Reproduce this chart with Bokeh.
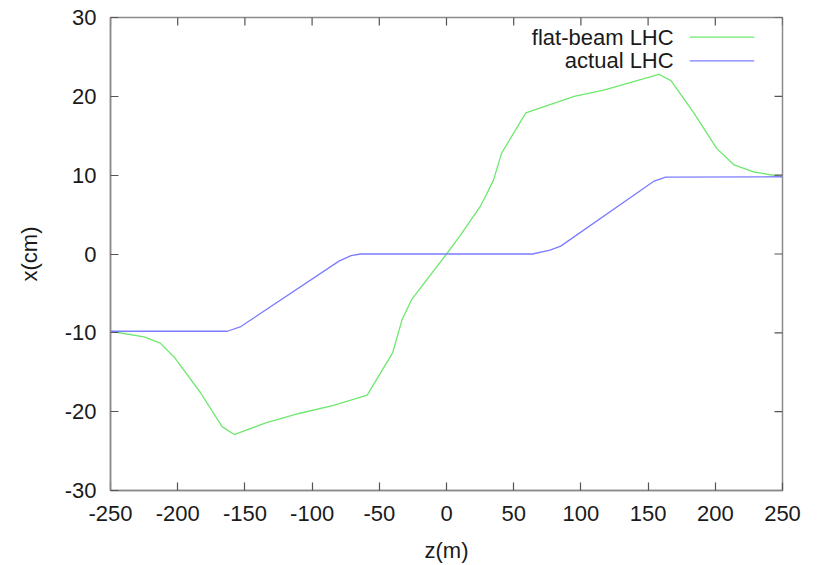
import math
from bokeh.plotting import figure
from bokeh.models import FixedTicker, Label, Range1d
from bokeh.embed import file_html
from bokeh.resources import INLINE

# ---- data ----
z_flat = [-250, -225, -213, -202, -183, -167, -158, -134, -109, -84, -59, -40, -33, -26,
          0, 10, 25, 29, 35, 41, 59, 95, 117, 158, 167, 184, 201, 214, 229, 250]
x_flat = [-9.8, -10.5, -11.3, -13.2, -17.6, -21.9, -22.9, -21.4, -20.2, -19.2, -17.9, -12.5, -8.3, -5.8,
          0.0, 2.3, 6.0, 7.3, 9.4, 12.8, 17.9, 20.0, 20.8, 22.8, 22.0, 17.9, 13.4, 11.3, 10.4, 9.8]

z_act = [-250, -163, -153, -80, -71, -64, 64, 77, 85, 154, 163, 250]
x_act = [-9.8, -9.8, -9.2, -0.9, -0.2, 0.0, 0.0, 0.5, 1.0, 9.2, 9.75, 9.8]

series_names = ["flat-beam LHC", "actual LHC"]
x_ticks = [-250, -200, -150, -100, -50, 0, 50, 100, 150, 200, 250]
y_ticks = [-30, -20, -10, 0, 10, 20, 30]

GREEN = "#6ee86e"
BLUE = "#7c7cff"
FONT = "Liberation Sans"
FS = "22px"
TXT = "#1a1a1a"
FRAME = "#8a8a8a"
TICK = "#555555"

x_min, x_max = x_ticks[0], x_ticks[-1]
y_min, y_max = y_ticks[0], y_ticks[-1]

p = figure(width=819, height=565, output_backend="svg", toolbar_location=None,
           x_range=Range1d(x_min, x_max), y_range=Range1d(y_min, y_max),
           min_border_left=110, min_border_right=37, min_border_top=17, min_border_bottom=73,
           x_axis_label="z(m)", y_axis_label="x(cm)")
p.xgrid.visible = False
p.ygrid.visible = False
p.outline_line_color = FRAME
p.outline_line_width = 1.5
p.background_fill_color = "white"
p.border_fill_color = "white"

p.line(z_flat, x_flat, line_color=GREEN, line_width=1.3)
p.line(z_act, x_act, line_color=BLUE, line_width=1.3)

def style_axis(ax, ticks):
    ax.ticker = FixedTicker(ticks=ticks)
    ax.major_label_overrides = {t: str(t) for t in ticks}  # plain hyphen minus
    ax.major_tick_in = 8
    ax.major_tick_out = 0
    ax.minor_tick_line_color = None
    ax.major_tick_line_color = TICK
    ax.major_tick_line_width = 1.2
    ax.axis_line_color = FRAME
    ax.axis_line_width = 1.5
    ax.major_label_text_font = FONT
    ax.major_label_text_color = TXT
    ax.major_label_text_font_size = FS
    ax.axis_label_text_font = FONT
    ax.axis_label_text_font_size = FS
    ax.axis_label_text_font_style = "normal"
    ax.axis_label_text_color = TXT

xa = p.xaxis[0]
ya = p.yaxis[0]
style_axis(xa, x_ticks)
style_axis(ya, y_ticks)
xa.major_label_standoff = 15
ya.major_label_standoff = 14
xa.axis_label_standoff = 14
ya.axis_label_standoff = 20

# mirrored inward ticks on the top and right edges
p.ray(x=x_ticks, y=[y_max] * len(x_ticks), length=8, length_units="screen",
      angle=-math.pi / 2, line_color=TICK, line_width=1.2)
p.ray(x=[x_max] * len(y_ticks), y=y_ticks, length=8, length_units="screen",
      angle=math.pi, line_color=TICK, line_width=1.2)

# ---- legend (text right-aligned, then line sample), placed in data space ----
leg_text_x = 169
leg_line_x0, leg_line_x1 = 181, 229
leg_rows_y = [27.5, 24.5]
for name, col, ly in zip(series_names, [GREEN, BLUE], leg_rows_y):
    p.add_layout(Label(x=leg_text_x, y=ly, text=name, text_align="right", text_baseline="middle",
                       text_font=FONT, text_font_size=FS, text_color=TXT))
    p.line([leg_line_x0, leg_line_x1], [ly, ly], line_color=col, line_width=1.3)

open("out.html", "w").write(file_html(p, INLINE))
